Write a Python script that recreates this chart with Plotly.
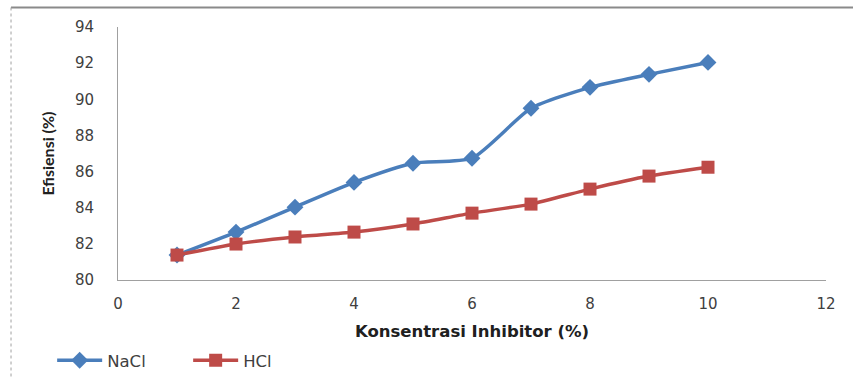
import plotly.graph_objects as go

konsentrasi = [1, 2, 3, 4, 5, 6, 7, 8, 9, 10]
nacl = [81.38, 82.65, 84.03, 85.4, 86.46, 86.74, 89.5, 90.66, 91.38, 92.04]
hcl = [81.38, 81.99, 82.38, 82.65, 83.1, 83.7, 84.2, 85.03, 85.75, 86.24]
x_ticks = [0, 2, 4, 6, 8, 10, 12]
y_ticks = [80, 82, 84, 86, 88, 90, 92, 94]

FONT = "DejaVu Sans, sans-serif"

# paper spans y 27..378 (margin b=0); plot area bottom at y=280
Y_DOMAIN_LOW = (378 - 280) / 351

fig = go.Figure()
fig.add_trace(go.Scatter(
    x=konsentrasi, y=nacl, name="NaCl", mode="lines+markers",
    line=dict(color="#4A7EBB", width=3.5, shape="spline", smoothing=0.6),
    marker=dict(symbol="diamond", size=13, color="#4A7EBB"),
))
fig.add_trace(go.Scatter(
    x=konsentrasi, y=hcl, name="HCl", mode="lines+markers",
    line=dict(color="#BE4B48", width=3.5, shape="spline", smoothing=0.6),
    marker=dict(symbol="square", size=13, color="#BE4B48"),
))

fig.update_layout(
    width=853, height=378,
    margin=dict(l=118, r=27, t=27, b=0),
    paper_bgcolor="white", plot_bgcolor="white",
    font=dict(family=FONT, size=15, color="#404040"),
    showlegend=True,
    legend=dict(orientation="h", x=-0.093, y=0.0, xanchor="left", yanchor="bottom",
                font=dict(size=16.5, color="#404040"),
                itemwidth=45, entrywidth=76, entrywidthmode="pixels",
                bgcolor="rgba(0,0,0,0)"),
    xaxis=dict(range=[0, 12], tickvals=x_ticks, showgrid=False, zeroline=False,
               showline=True, linecolor="#A0A0A0", linewidth=1, ticks="",
               ticklabelstandoff=10, automargin=False,
               tickfont=dict(size=15, color="#404040"),
               title=dict(text="<b>Konsentrasi Inhibitor (%)</b>", standoff=13,
                          font=dict(size=16.5, color="#202020"))),
    yaxis=dict(range=[80, 94], tickvals=y_ticks, showgrid=False, zeroline=False,
               domain=[Y_DOMAIN_LOW, 1],
               showline=True, linecolor="#A0A0A0", linewidth=1, ticks="",
               ticklabelstandoff=20, automargin=False,
               tickfont=dict(size=15, color="#404040"),
               title=dict(text="<b>Efisiensi (%)</b>", standoff=16,
                          font=dict(family="Lato, sans-serif", size=16, color="#202020"))),
    shapes=[
        dict(type="line", xref="paper", yref="paper", x0=-0.1511, x1=1.05, y0=1.0556, y1=1.0556,
             line=dict(color="#8A8A8A", width=2)),
        dict(type="line", xref="paper", yref="paper", x0=-0.1511, x1=-0.1511, y0=1.0556, y1=-0.01,
             line=dict(color="#A0A0A0", width=1, dash="dot")),
    ],
)

fig.write_html("out.html")
